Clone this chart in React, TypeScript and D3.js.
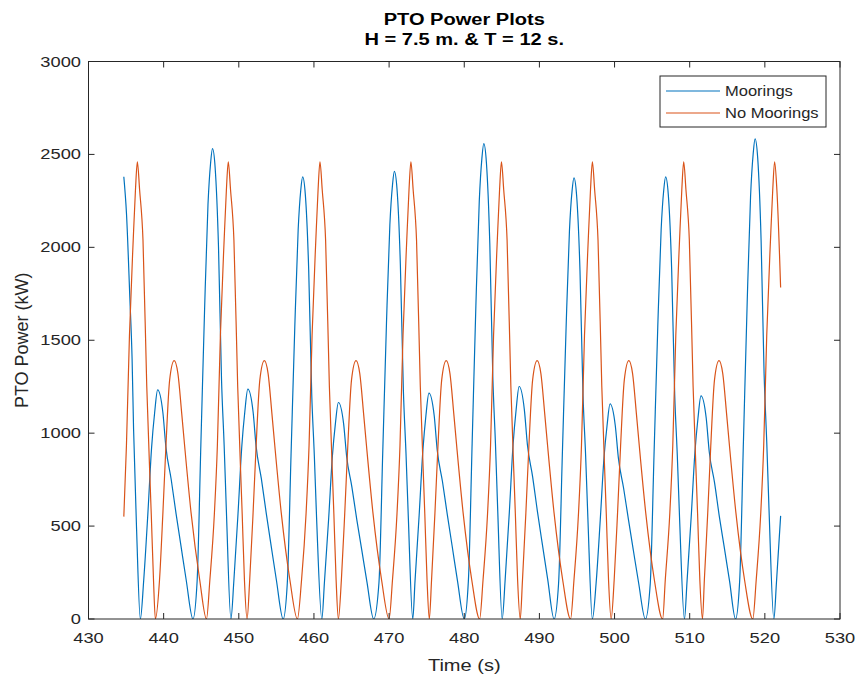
import React from 'react';
import * as d3 from 'd3';

// [time (s), power (kW)]
const moorings: [number, number][] = [
  [434.7, 2380], [435.05, 2185], [435.5, 1730], [435.8, 1400], [436.0, 1020], [436.4, 480], [436.9, 0],
  [437.35, 210], [437.9, 567], [438.4, 925], [438.8, 1110], [439.2, 1233], [439.9, 1110], [440.3, 925],
  [441.0, 752], [441.65, 567], [442.3, 395], [443.0, 210], [443.9, 0],
  [444.45, 200], [444.95, 935], [445.45, 1670], [445.9, 2230], [446.25, 2455], [446.5, 2531], [446.85, 2430],
  [447.3, 2000], [447.7, 1290], [448.05, 935], [448.35, 580], [448.95, 0],
  [449.35, 210], [449.9, 570], [450.4, 930], [450.8, 1115], [451.2, 1237], [451.9, 1115], [452.3, 930],
  [453.0, 755], [453.65, 570], [454.3, 395], [455.0, 210], [455.9, 0],
  [456.45, 190], [456.95, 880], [457.45, 1570], [457.9, 2095], [458.25, 2310], [458.5, 2379], [458.85, 2285],
  [459.3, 1880], [459.7, 1215], [460.05, 880], [460.35, 545], [461.05, 0],
  [461.4, 200], [461.95, 535], [462.45, 875], [462.85, 1050], [463.25, 1165], [463.95, 1050], [464.35, 875],
  [465.05, 710], [465.7, 535], [466.35, 375], [467.05, 200], [467.95, 0],
  [468.65, 195], [469.15, 890], [469.65, 1590], [470.1, 2120], [470.45, 2335], [470.7, 2409], [471.05, 2315],
  [471.5, 1905], [471.9, 1230], [472.25, 890], [472.55, 555], [473.15, 0],
  [473.45, 205], [474.0, 560], [474.5, 910], [474.9, 1095], [475.3, 1216], [476.0, 1095], [476.4, 910],
  [477.1, 740], [477.75, 560], [478.4, 390], [479.1, 205], [480.0, 0],
  [480.55, 205], [481.05, 945], [481.55, 1690], [482.0, 2250], [482.35, 2480], [482.6, 2558], [482.95, 2455],
  [483.4, 2020], [483.8, 1305], [484.15, 945], [484.45, 590], [485.05, 0],
  [485.45, 215], [486.0, 575], [486.5, 940], [486.9, 1125], [487.3, 1251], [488.0, 1125], [488.4, 940],
  [489.1, 765], [489.75, 575], [490.4, 400], [491.1, 215], [491.95, 0],
  [492.55, 190], [493.05, 880], [493.55, 1565], [494.0, 2090], [494.35, 2305], [494.6, 2374], [494.95, 2280],
  [495.4, 1875], [495.8, 1210], [496.15, 880], [496.45, 545], [497.05, 0],
  [497.55, 195], [498.1, 535], [498.6, 870], [499.0, 1040], [499.4, 1158], [500.1, 1040], [500.5, 870],
  [501.2, 705], [501.85, 535], [502.5, 370], [503.2, 195], [504.1, 0],
  [504.75, 190], [505.25, 880], [505.75, 1570], [506.2, 2095], [506.55, 2310], [506.8, 2379], [507.15, 2285],
  [507.6, 1880], [508.0, 1215], [508.35, 880], [508.65, 545], [509.3, 0],
  [509.65, 205], [510.2, 550], [510.7, 900], [511.1, 1080], [511.5, 1201], [512.2, 1080], [512.6, 900],
  [513.3, 735], [513.95, 550], [514.6, 385], [515.3, 205], [516.1, 0],
  [516.65, 205], [517.15, 955], [517.65, 1705], [518.1, 2275], [518.45, 2505], [518.7, 2584], [519.05, 2480],
  [519.5, 2040], [519.9, 1320], [520.25, 955], [520.55, 595], [521.2, 0],
  [521.55, 200], [522.1, 555],
];

const noMoorings: [number, number][] = [
  [434.7, 551], [435.05, 935], [435.45, 1525], [435.95, 2040], [436.25, 2310], [436.5, 2460], [436.8, 2310],
  [437.25, 2040], [437.75, 1255], [438.35, 566], [438.65, 210], [438.9, 0],
  [439.45, 210], [439.9, 571], [440.3, 928], [440.8, 1287], [441.4, 1390], [441.9, 1320], [442.4, 1108],
  [442.8, 928], [443.65, 571], [444.8, 210], [445.7, 0],
  [446.15, 210], [446.75, 566], [447.15, 935], [447.55, 1525], [448.05, 2040], [448.35, 2310], [448.6, 2460],
  [448.9, 2310], [449.35, 2040], [449.85, 1255], [450.45, 566], [450.75, 210], [451.1, 0],
  [451.45, 210], [451.9, 571], [452.3, 928], [452.8, 1287], [453.4, 1390], [453.9, 1320], [454.4, 1108],
  [454.8, 928], [455.65, 571], [456.8, 210], [457.8, 0],
  [458.35, 210], [458.95, 566], [459.35, 935], [459.75, 1525], [460.25, 2040], [460.55, 2310], [460.8, 2460],
  [461.1, 2310], [461.55, 2040], [462.05, 1255], [462.65, 566], [462.95, 210], [463.25, 0],
  [463.65, 210], [464.1, 571], [464.5, 928], [465.0, 1287], [465.6, 1390], [466.1, 1320], [466.6, 1108],
  [467.0, 928], [467.85, 571], [469.0, 210], [470.0, 0],
  [470.45, 210], [471.05, 566], [471.45, 935], [471.85, 1525], [472.35, 2040], [472.65, 2310], [472.9, 2460],
  [473.2, 2310], [473.65, 2040], [474.15, 1255], [474.75, 566], [475.05, 210], [475.35, 0],
  [475.65, 210], [476.1, 571], [476.5, 928], [477.0, 1287], [477.6, 1390], [478.1, 1320], [478.6, 1108],
  [479.0, 928], [479.85, 571], [481.0, 210], [482.05, 0],
  [482.5, 210], [483.1, 566], [483.5, 935], [483.9, 1525], [484.4, 2040], [484.7, 2310], [484.95, 2460],
  [485.25, 2310], [485.7, 2040], [486.2, 1255], [486.8, 566], [487.1, 210], [487.45, 0],
  [487.75, 210], [488.2, 571], [488.6, 928], [489.1, 1287], [489.7, 1390], [490.2, 1320], [490.7, 1108],
  [491.1, 928], [491.95, 571], [493.1, 210], [494.15, 0],
  [494.6, 210], [495.2, 566], [495.6, 935], [496.0, 1525], [496.5, 2040], [496.8, 2310], [497.05, 2460],
  [497.35, 2310], [497.8, 2040], [498.3, 1255], [498.9, 566], [499.2, 210], [499.55, 0],
  [499.95, 210], [500.4, 571], [500.8, 928], [501.3, 1287], [501.9, 1390], [502.4, 1320], [502.9, 1108],
  [503.3, 928], [504.15, 571], [505.3, 210], [506.4, 0],
  [506.75, 210], [507.35, 566], [507.75, 935], [508.15, 1525], [508.65, 2040], [508.95, 2310], [509.2, 2460],
  [509.5, 2310], [509.95, 2040], [510.45, 1255], [511.05, 566], [511.35, 210], [511.7, 0],
  [511.95, 210], [512.4, 571], [512.8, 928], [513.3, 1287], [513.9, 1390], [514.4, 1320], [514.9, 1108],
  [515.3, 928], [516.15, 571], [517.3, 210], [518.4, 0],
  [518.85, 210], [519.45, 566], [519.85, 935], [520.25, 1525], [520.75, 2040], [521.05, 2310], [521.3, 2460],
  [521.6, 2310], [522.1, 1784],
];

const xTicks = [430, 440, 450, 460, 470, 480, 490, 500, 510, 520, 530];
const yTicks = [0, 500, 1000, 1500, 2000, 2500, 3000];
const seriesNames = ['Moorings', 'No Moorings'];
const seriesColors = ['#0072BD', '#D95319'];

const W = 857;
const H = 679;
const left = 88.5;
const right = 840;
const top = 61.5;
const bottom = 619;
const axisColor = '#262626';
const font = '"Liberation Sans", Arial, Helvetica, sans-serif';
const stretch = 1.18; // glyphs in the original look horizontally wide

function Label({ x, y, size, anchor = 'start', bold = false, fill = axisColor, children }: any) {
  return (
    <text
      transform={`translate(${x},${y}) scale(${stretch},1)`}
      fontSize={size}
      fontWeight={bold ? 'bold' : 'normal'}
      fill={fill}
      textAnchor={anchor}
      dominantBaseline="central"
    >
      {children}
    </text>
  );
}

export default function App() {
  const x = d3.scaleLinear().domain([430, 530]).range([left, right]);
  const y = d3.scaleLinear().domain([0, 3000]).range([bottom, top]);

  const line = d3
    .line<[number, number]>()
    .x((d) => x(d[0]))
    .y((d) => y(d[1]))
    .curve(d3.curveMonotoneX);

  const tickLen = 6;
  const midX = (left + right) / 2;

  return (
    <svg
      width={W}
      height={H}
      style={{ position: 'absolute', left: 0, top: 0, background: '#fff' }}
      fontFamily={font}
    >
      <rect x={0} y={0} width={W} height={H} fill="#fff" />
      <defs>
        <clipPath id="plotClip">
          <rect x={left} y={top} width={right - left} height={bottom - top} />
        </clipPath>
      </defs>

      <g clipPath="url(#plotClip)" fill="none" strokeWidth={1.2} strokeLinejoin="round">
        <path d={line(moorings) || ''} stroke={seriesColors[0]} />
        <path d={line(noMoorings) || ''} stroke={seriesColors[1]} />
      </g>

      {/* box + ticks */}
      <rect x={left} y={top} width={right - left} height={bottom - top} fill="none" stroke={axisColor} strokeWidth={1} />
      {xTicks.map((t) => (
        <g key={'x' + t}>
          <line x1={x(t)} x2={x(t)} y1={bottom} y2={bottom - tickLen} stroke={axisColor} />
          <line x1={x(t)} x2={x(t)} y1={top} y2={top + tickLen} stroke={axisColor} />
          <Label x={x(t)} y={638} size={15.5} anchor="middle">{t}</Label>
        </g>
      ))}
      {yTicks.map((t) => (
        <g key={'y' + t}>
          <line x1={left} x2={left + tickLen} y1={y(t)} y2={y(t)} stroke={axisColor} />
          <line x1={right} x2={right - tickLen} y1={y(t)} y2={y(t)} stroke={axisColor} />
          <Label x={81} y={y(t)} size={15.5} anchor="end">{t}</Label>
        </g>
      ))}

      <Label x={midX} y={665} size={17} anchor="middle">Time (s)</Label>
      <text
        transform={`translate(22,${(top + bottom) / 2}) rotate(-90)`}
        fontSize={18}
        fill={axisColor}
        textAnchor="middle"
        dominantBaseline="central"
      >
        PTO Power (kW)
      </text>

      <Label x={midX} y={19} size={17} anchor="middle" bold fill="#000">PTO Power Plots</Label>
      <Label x={midX} y={39.5} size={17} anchor="middle" bold fill="#000">H = 7.5 m. &amp; T = 12 s.</Label>

      {/* legend */}
      <rect x={660} y={76} width={166} height={51} fill="#fff" stroke={axisColor} strokeWidth={1} />
      {seriesNames.map((name, i) => (
        <g key={name}>
          <line x1={666} x2={720} y1={91 + i * 22} y2={91 + i * 22} stroke={seriesColors[i]} strokeWidth={1.2} />
          <Label x={725} y={91 + i * 22} size={14}>{name}</Label>
        </g>
      ))}
    </svg>
  );
}
